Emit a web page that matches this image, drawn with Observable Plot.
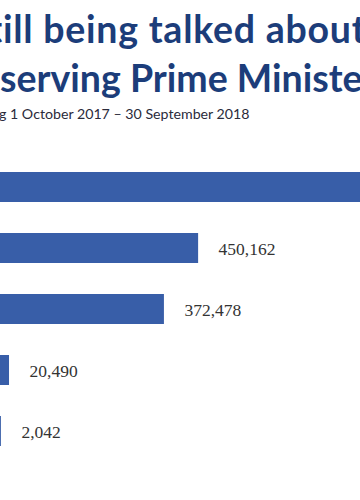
<!DOCTYPE html>
<html>
<head>
<meta charset="utf-8">
<script src="https://cdn.jsdelivr.net/npm/d3@7"></script>
<script src="https://cdn.jsdelivr.net/npm/@observablehq/plot@0.6"></script>
<style>
  html, body { margin: 0; padding: 0; background: #fff; }
  body { width: 360px; height: 500px; overflow: hidden; position: relative; }
  .line { position: absolute; white-space: nowrap; line-height: 1; }
  .pre { position: absolute; right: 100%; top: 0; white-space: nowrap; }
  .t { font-family: Lato, "Open Sans", sans-serif; font-weight: 700; color: #1c3d7a; font-size: 37.5px; }
  #t1 { left: 3px; top: 9.7px; letter-spacing: 0.75px; }
  #t2 { left: 0px; top: 58.7px; letter-spacing: 0px; }
  .sub { font-family: Lato, sans-serif; font-size: 14.2px; color: #2b2b3b; left: 10px; top: 106.5px; }
  #chart { position: absolute; left: 0; top: 130px; }
</style>
</head>
<body>
<div class="line t" id="t1"><span class="pre">Brexit st</span>ill being talked about more than</div>
<div class="line t" id="t2"><span class="pre">the&nbsp;</span>serving Prime Minister</div>
<div class="line sub" id="s1"><span class="pre">Number of mentions during&nbsp;</span>1 October 2017 – 30 September 2018</div>
<div id="chart"></div>
<script>
const categories = ["Brexit", "Theresa May", "Jeremy Corbyn", "Vince Cable", "Caroline Lucas"];
const mentions = [1050000, 450162, 372478, 20490, 2042];

const data = categories.map((c, i) => ({ name: c, value: mentions[i] }));

const plot = Plot.plot({
  width: 360,
  height: 370,
  marginLeft: 0,
  marginRight: 0,
  marginTop: 24,
  marginBottom: 37,
  x: { domain: [0, 818000], axis: null },
  y: { domain: categories, axis: null, paddingInner: 0.51, paddingOuter: 0.255 },
  marks: [
    Plot.barX(data, { x: "value", y: "name", fill: "#385ea8" }),
    Plot.text(data, {
      x: "value", y: "name", text: d => d3.format(",")(d.value),
      dx: 20, dy: 1, textAnchor: "start", fill: "#333",
      fontFamily: "'Liberation Serif', serif", fontSize: 17.5
    })
  ]
});
document.getElementById("chart").appendChild(plot);
</script>
</body>
</html>
